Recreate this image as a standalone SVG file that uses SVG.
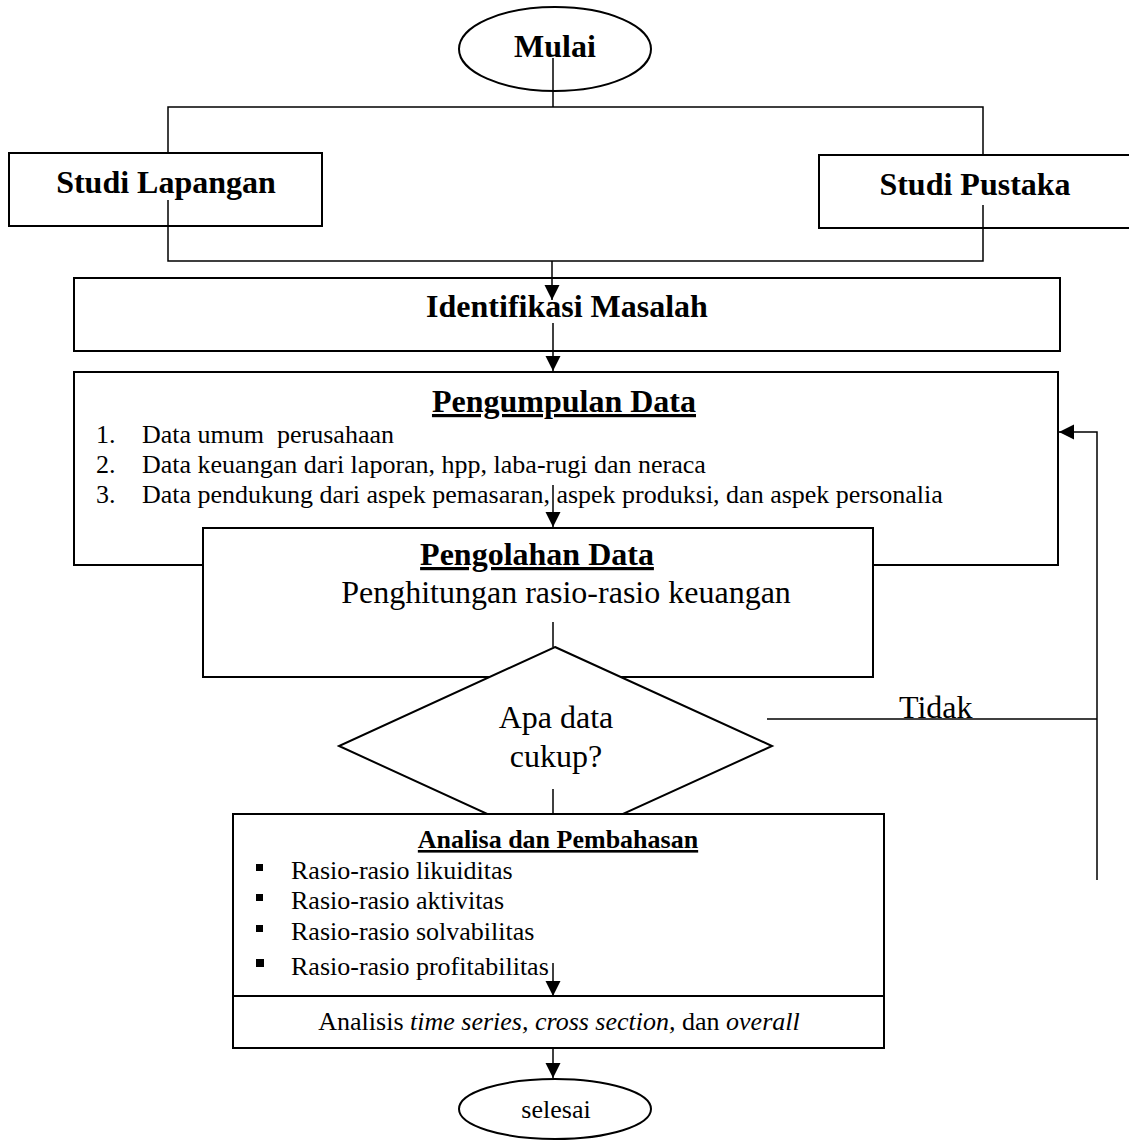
<svg xmlns="http://www.w3.org/2000/svg" width="1129" height="1140" viewBox="0 0 1129 1140">
<style>
  .box { fill: #fff; stroke: #000; stroke-width: 2; }
  .ln { fill: none; stroke: #000; stroke-width: 1.5; }
  .t { font-family: "Liberation Serif", "Times New Roman", serif; fill: #000; }
  .b32 { font-size: 32px; font-weight: bold; }
  .r32 { font-size: 32px; }
  .b26 { font-size: 26px; font-weight: bold; }
  .r26 { font-size: 26px; }
  .mid { text-anchor: middle; }
  .u { text-decoration: underline; }
</style>
<defs>
  <marker id="arr" markerUnits="userSpaceOnUse" markerWidth="16" markerHeight="16" refX="15" refY="7.5" orient="auto">
    <path d="M0,0 L15,7.5 L0,15 Z" fill="#000"/>
  </marker>
</defs>
<rect width="1129" height="1140" fill="#fff"/>

<g id="mulai">
  <ellipse class="box" cx="555" cy="49" rx="96" ry="42"/>
  <text class="t b32 mid" x="555" y="57">Mulai</text>
</g>

<g id="studi-lapangan">
  <rect class="box" x="9" y="153" width="313" height="73"/>
  <text class="t b32 mid" x="166" y="193">Studi Lapangan</text>
</g>

<g id="studi-pustaka">
  <rect class="box" x="819" y="155" width="330" height="73"/>
  <text class="t b32 mid" x="975" y="195">Studi Pustaka</text>
</g>

<g id="identifikasi">
  <rect class="box" x="74" y="278" width="986" height="73"/>
  <text class="t b32 mid" x="567" y="317">Identifikasi Masalah</text>
</g>

<g id="pengumpulan">
  <rect class="box" x="74" y="372" width="984" height="193"/>
  <text class="t b32 mid u" x="564" y="412">Pengumpulan Data</text>
  <text class="t r26" x="96" y="443">1.</text>
  <text class="t r26" x="142" y="443" xml:space="preserve">Data umum  perusahaan</text>
  <text class="t r26" x="96" y="473">2.</text>
  <text class="t r26" x="142" y="473">Data keuangan dari laporan, hpp, laba-rugi dan neraca</text>
  <text class="t r26" x="96" y="503">3.</text>
  <text class="t r26" x="142" y="503">Data pendukung dari aspek pemasaran, aspek produksi, dan aspek personalia</text>
</g>

<g id="pengolahan">
  <rect class="box" x="203" y="528" width="670" height="149"/>
  <text class="t b32 mid u" x="537" y="565">Pengolahan Data</text>
  <text class="t r32 mid" x="566" y="603">Penghitungan rasio-rasio keuangan</text>
</g>

<g id="keputusan">
  <polygon class="box" points="555,647 772,746 555,845 339,746"/>
  <text class="t r32 mid" x="556" y="728">Apa data</text>
  <text class="t r32 mid" x="556" y="767">cukup?</text>
</g>

<g id="analisa">
  <rect class="box" x="233" y="814" width="651" height="234"/>
  <line class="box" x1="233" y1="996" x2="884" y2="996"/>
  <text class="t b26 mid u" x="558" y="848">Analisa dan Pembahasan</text>
  <rect x="256" y="864" width="7" height="7" fill="#000"/>
  <text class="t r26" x="291" y="879">Rasio-rasio likuiditas</text>
  <rect x="256" y="894" width="7" height="7" fill="#000"/>
  <text class="t r26" x="291" y="909">Rasio-rasio aktivitas</text>
  <rect x="256" y="925" width="7" height="7" fill="#000"/>
  <text class="t r26" x="291" y="940">Rasio-rasio solvabilitas</text>
  <rect x="256" y="959" width="8" height="8" fill="#000"/>
  <text class="t r26" x="291" y="975">Rasio-rasio profitabilitas</text>
  <text class="t r26 mid" x="559" y="1030">Analisis <tspan font-style="italic">time series, cross section,</tspan> dan <tspan font-style="italic">overall</tspan></text>
</g>

<g id="selesai">
  <ellipse class="box" cx="555" cy="1109" rx="96" ry="30"/>
  <text class="t r26 mid" x="556" y="1118">selesai</text>
</g>

<g id="connectors">
  <path class="ln" d="M553,58 V107"/>
  <path class="ln" d="M168,153 V107 H983 V155"/>
  <path class="ln" d="M168,200 V261 H983 V205"/>
  <path class="ln" d="M552,261 V300" marker-end="url(#arr)"/>
  <path class="ln" d="M553,323 V371" marker-end="url(#arr)"/>
  <path class="ln" d="M553,485 V527" marker-end="url(#arr)"/>
  <path class="ln" d="M553,622 V647"/>
  <path class="ln" d="M553,789 V814"/>
  <path class="ln" d="M553,963 V996" marker-end="url(#arr)"/>
  <path class="ln" d="M553,1048 V1078" marker-end="url(#arr)"/>
  <path class="ln" d="M767,719 H1097"/>
  <path class="ln" d="M1097,880 V432 H1059" marker-end="url(#arr)"/>
  <text class="t r32" x="899" y="718">Tidak</text>
</g>
</svg>
